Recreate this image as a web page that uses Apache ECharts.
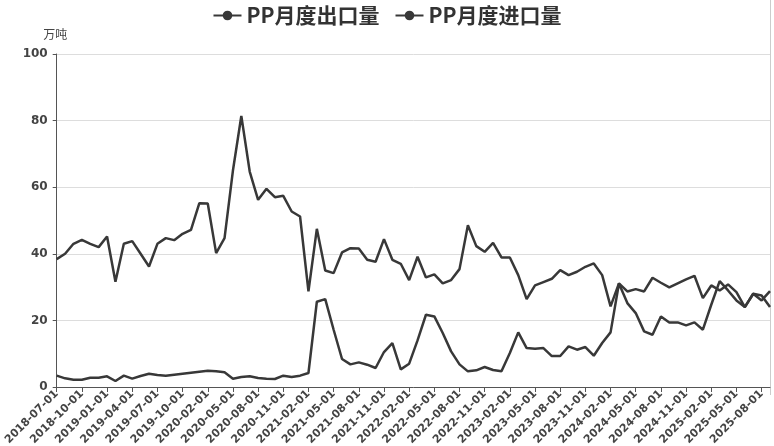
<!DOCTYPE html>
<html>
<head>
<meta charset="utf-8">
<script src="https://cdn.jsdelivr.net/npm/echarts@6/dist/echarts.min.js"></script>
<style>html,body{margin:0;padding:0;background:#fff;}#c{width:774px;height:446px;}</style>
</head>
<body>
<div id="c"></div>
<script>
// Months (2020-01 absent in source data)
const months = (function(){
  const out = [];
  for (let y = 2018; y <= 2025; y++) {
    for (let m = 1; m <= 12; m++) {
      if (y === 2018 && m < 7) continue;
      if (y === 2025 && m > 9) continue;
      if (y === 2020 && m === 1) continue;
      out.push(y + '-' + String(m).padStart(2, '0') + '-01');
    }
  }
  return out;
})();

const exportVals = [
  3.4, 2.6, 2.2, 2.2, 2.8, 2.8, 3.2, 1.8, 3.4, 2.5,
  3.3, 4.0, 3.6, 3.4, 3.7, 4.0, 4.3, 4.6, 4.9, 4.7,
  4.4, 2.5, 3.0, 3.2, 2.7, 2.5, 2.4, 3.4, 3.0, 3.4,
  4.2, 25.6, 26.4, 17.2, 8.4, 6.8, 7.4, 6.7, 5.7, 10.5,
  13.2, 5.3, 7.0, 14.0, 21.7, 21.2, 16.2, 10.7, 6.8, 4.7,
  5.0, 6.0, 5.1, 4.7, 10.2, 16.4, 11.7, 11.5, 11.7, 9.3,
  9.3, 12.2, 11.2, 12.0, 9.4, 13.2, 16.4, 31.1, 25.2, 22.2,
  16.7, 15.7, 21.2, 19.4, 19.4, 18.5, 19.4, 17.2, 24.7, 31.8,
  29.0, 26.0, 24.0, 28.0, 27.5, 24.0
];

const importVals = [
  38.4, 40.0, 43.0, 44.2, 43.0, 42.0, 45.2, 31.6, 43.0, 43.8,
  40.0, 36.2, 43.0, 44.7, 44.1, 46.0, 47.2, 55.2, 55.1, 40.2,
  44.7, 65.0, 81.4, 64.7, 56.2, 59.5, 57.0, 57.4, 52.7, 51.2,
  28.7, 47.5, 35.0, 34.2, 40.4, 41.7, 41.6, 38.2, 37.6, 44.4,
  38.2, 37.0, 32.1, 39.1, 32.9, 33.8, 31.1, 32.1, 35.4, 48.6,
  42.3, 40.6, 43.3, 38.9, 38.9, 33.6, 26.4, 30.5, 31.5, 32.5,
  35.1, 33.6, 34.6, 36.1, 37.1, 33.6, 24.2, 31.1, 28.7, 29.4,
  28.7, 32.8, 31.3, 29.9, 31.1, 32.3, 33.4, 26.7, 30.5, 29.0,
  30.8, 28.5, 24.0, 28.0, 26.0, 28.8
];

const seriesNames = ['PP月度出口量', 'PP月度进口量'];
const yTicks = { min: 0, max: 100, interval: 20 };
const yUnit = '万吨';

const CJK = '"Noto Sans CJK SC", "Noto Sans", sans-serif';
const NUM = '"DejaVu Sans", "Noto Sans", sans-serif';
const chart = echarts.init(document.getElementById('c'), null, { renderer: 'canvas' });
chart.setOption({
  backgroundColor: '#fff',
  animation: false,
  legend: {
    top: 0,
    left: 'center',
    itemWidth: 28,
    itemHeight: 12,
    itemGap: 15,
    textStyle: { fontFamily: CJK, fontSize: 21, fontWeight: 'bold', color: '#333' },
    data: seriesNames
  },
  grid: { left: 56.7, right: 4, top: 54, bottom: 59, containLabel: false, outerBoundsMode: 'none' },
  xAxis: {
    type: 'category',
    data: months,
    boundaryGap: false,
    axisLine: { lineStyle: { color: '#555', width: 1 } },
    axisTick: { show: true, interval: 2, lineStyle: { color: '#555' }, length: 5 },
    axisLabel: {
      interval: 2, rotate: 45, fontFamily: NUM, fontSize: 11, fontWeight: 'bold', color: '#444', margin: 5
    },
    splitLine: { show: false }
  },
  yAxis: {
    type: 'value',
    min: yTicks.min, max: yTicks.max, interval: yTicks.interval,
    name: yUnit,
    nameGap: 14,
    nameTextStyle: { fontFamily: CJK, fontSize: 12, color: '#444', align: 'center', padding: [0, 0, 0, -3] },
    axisLine: { show: true, lineStyle: { color: '#555', width: 1 } },
    axisTick: { show: true, length: 4, lineStyle: { color: '#555' } },
    axisLabel: { fontFamily: NUM, fontSize: 12, fontWeight: 'bold', color: '#444', margin: 9 },
    splitLine: { lineStyle: { color: '#ddd', width: 1 } }
  },
  series: [
    {
      name: seriesNames[0], type: 'line', data: exportVals,
      showSymbol: false, symbol: 'circle', symbolSize: 8,
      itemStyle: { color: '#383838' },
      lineStyle: { color: '#383838', width: 2.5 }
    },
    {
      name: seriesNames[1], type: 'line', data: importVals,
      showSymbol: false, symbol: 'circle', symbolSize: 8,
      itemStyle: { color: '#383838' },
      lineStyle: { color: '#383838', width: 2.5 }
    }
  ],
  graphic: [
    { type: 'line', shape: { x1: 770.5, y1: 0, x2: 770.5, y2: 395 }, style: { stroke: '#ccc', lineWidth: 1 } }
  ]
});
</script>
</body>
</html>
